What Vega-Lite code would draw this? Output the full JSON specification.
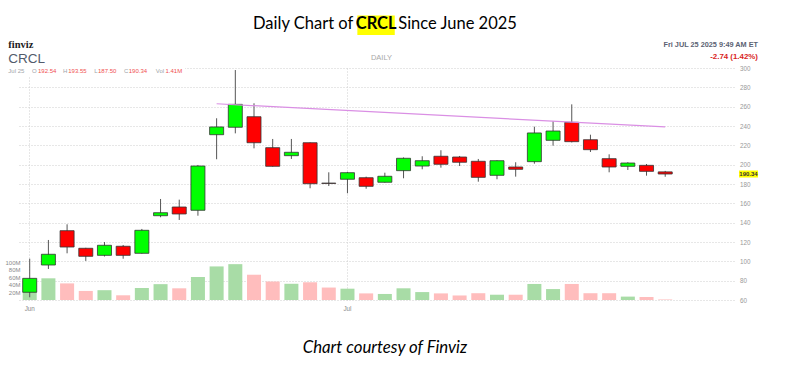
{
  "$schema": "https://vega.github.io/schema/vega-lite/v6.json",
  "width": 717,
  "height": 232,
  "autosize": {"type": "none"},
  "padding": {"left": 17, "top": 68, "right": 51, "bottom": 81},
  "background": "white",
  "config": {"view": {"stroke": null}, "font": "Liberation Sans"},
  "datasets": {
    "ohlc": [
      {"date": "2025-06-05", "open": 68.0, "high": 102.7, "low": 62.8, "close": 82.4, "volume": 48000000},
      {"date": "2025-06-06", "open": 96.2, "high": 122.1, "low": 92.1, "close": 107.3, "volume": 57500000},
      {"date": "2025-06-09", "open": 131.7, "high": 138.3, "low": 108.3, "close": 114.8, "volume": 44000000},
      {"date": "2025-06-10", "open": 113.5, "high": 114.0, "low": 100.4, "close": 105.2, "volume": 24000000},
      {"date": "2025-06-11", "open": 106.2, "high": 120.0, "low": 105.0, "close": 116.6, "volume": 26000000},
      {"date": "2025-06-12", "open": 115.6, "high": 116.9, "low": 102.7, "close": 106.2, "volume": 12500000},
      {"date": "2025-06-13", "open": 108.3, "high": 133.5, "low": 108.0, "close": 132.1, "volume": 32000000},
      {"date": "2025-06-16", "open": 147.2, "high": 164.5, "low": 145.6, "close": 150.3, "volume": 42000000},
      {"date": "2025-06-17", "open": 156.2, "high": 163.8, "low": 142.8, "close": 149.0, "volume": 31000000},
      {"date": "2025-06-18", "open": 152.8, "high": 199.7, "low": 147.2, "close": 198.6, "volume": 61000000},
      {"date": "2025-06-20", "open": 231.0, "high": 248.0, "low": 205.6, "close": 239.0, "volume": 89000000},
      {"date": "2025-06-23", "open": 238.7, "high": 297.9, "low": 232.4, "close": 262.4, "volume": 95000000},
      {"date": "2025-06-24", "open": 249.6, "high": 263.5, "low": 216.9, "close": 222.7, "volume": 67000000},
      {"date": "2025-06-25", "open": 217.6, "high": 226.6, "low": 198.0, "close": 198.3, "volume": 49000000},
      {"date": "2025-06-26", "open": 209.3, "high": 226.6, "low": 205.9, "close": 212.8, "volume": 43000000},
      {"date": "2025-06-27", "open": 222.7, "high": 223.0, "low": 175.6, "close": 180.3, "volume": 47000000},
      {"date": "2025-06-30", "open": 180.9, "high": 192.1, "low": 177.9, "close": 180.6, "volume": 33000000},
      {"date": "2025-07-01", "open": 184.9, "high": 192.5, "low": 170.4, "close": 191.7, "volume": 30000000},
      {"date": "2025-07-02", "open": 186.5, "high": 187.6, "low": 175.1, "close": 177.6, "volume": 17500000},
      {"date": "2025-07-03", "open": 181.8, "high": 191.7, "low": 181.5, "close": 188.0, "volume": 16000000},
      {"date": "2025-07-07", "open": 193.8, "high": 207.5, "low": 185.9, "close": 206.6, "volume": 31000000},
      {"date": "2025-07-08", "open": 198.6, "high": 208.7, "low": 195.2, "close": 204.1, "volume": 21000000},
      {"date": "2025-07-09", "open": 208.7, "high": 214.9, "low": 196.9, "close": 200.4, "volume": 17500000},
      {"date": "2025-07-10", "open": 207.9, "high": 209.0, "low": 198.6, "close": 202.5, "volume": 12000000},
      {"date": "2025-07-11", "open": 203.5, "high": 205.9, "low": 182.4, "close": 186.9, "volume": 18000000},
      {"date": "2025-07-14", "open": 189.0, "high": 204.5, "low": 184.9, "close": 204.1, "volume": 14000000},
      {"date": "2025-07-15", "open": 197.6, "high": 202.5, "low": 187.6, "close": 195.2, "volume": 14000000},
      {"date": "2025-07-16", "open": 203.1, "high": 239.3, "low": 201.0, "close": 232.8, "volume": 42500000},
      {"date": "2025-07-17", "open": 225.2, "high": 244.9, "low": 219.6, "close": 234.8, "volume": 29000000},
      {"date": "2025-07-18", "open": 243.8, "high": 262.4, "low": 223.0, "close": 223.8, "volume": 42500000},
      {"date": "2025-07-21", "open": 225.8, "high": 231.0, "low": 213.1, "close": 215.5, "volume": 18000000},
      {"date": "2025-07-22", "open": 206.2, "high": 210.7, "low": 192.1, "close": 197.6, "volume": 18000000},
      {"date": "2025-07-23", "open": 198.3, "high": 202.5, "low": 194.5, "close": 201.7, "volume": 9000000},
      {"date": "2025-07-24", "open": 199.3, "high": 200.7, "low": 188.6, "close": 193.1, "volume": 8000000},
      {"date": "2025-07-25", "open": 192.54, "high": 193.55, "low": 187.5, "close": 190.34, "volume": 1410000}
    ],
    "trend": [
      {"date": "2025-06-20", "price": 263},
      {"date": "2025-07-25", "price": 239}
    ]
  },
  "data": {"name": "ohlc"},
  "encoding": {
    "x": {
      "field": "date",
      "type": "ordinal",
      "scale": {
        "domain": ["2025-06-05","2025-06-06","2025-06-09","2025-06-10","2025-06-11","2025-06-12","2025-06-13","2025-06-16","2025-06-17","2025-06-18","2025-06-20","2025-06-23","2025-06-24","2025-06-25","2025-06-26","2025-06-27","2025-06-30","2025-07-01","2025-07-02","2025-07-03","2025-07-07","2025-07-08","2025-07-09","2025-07-10","2025-07-11","2025-07-14","2025-07-15","2025-07-16","2025-07-17","2025-07-18","2025-07-21","2025-07-22","2025-07-23","2025-07-24","2025-07-25","2025-07-28","2025-07-29","2025-07-30"],
        "paddingInner": 0.25,
        "paddingOuter": 0.305
      },
      "axis": {
        "values": ["2025-06-05", "2025-07-01"],
        "labelExpr": "datum.value == '2025-06-05' ? 'Jun' : 'Jul'",
        "title": null,
        "ticks": false,
        "tickSize": 0,
        "domain": false,
        "grid": true,
        "gridColor": "#cfcfcf",
        "gridDash": [1, 2],
        "labelAngle": 0,
        "labelFontSize": 6.3,
        "labelColor": "#8a8a8a",
        "labelPadding": 5
      }
    }
  },
  "layer": [
    {
      "mark": {"type": "bar"},
      "encoding": {
        "y": {
          "field": "volume",
          "type": "quantitative",
          "scale": {"domain": [0, 615000000], "nice": false, "zero": true},
          "axis": {
            "orient": "left",
            "values": [20000000, 40000000, 60000000, 80000000, 100000000],
            "tickCount": 10,
            "labelExpr": "(datum.value / 1000000) + 'M'",
            "title": null,
            "grid": false,
            "ticks": false,
            "tickSize": 0,
            "domain": false,
            "labelOverlap": false,
            "labelFontSize": 6,
            "labelColor": "#8a8a8a",
            "labelPadding": -3
          }
        },
        "color": {
          "condition": {"test": "datum.close >= datum.open", "value": "#a8dca6"},
          "value": "#ffbdbd"
        }
      }
    },
    {
      "layer": [
        {
          "mark": {"type": "rule", "color": "#555555", "strokeWidth": 1},
          "encoding": {
            "y": {
              "field": "low",
              "type": "quantitative",
              "scale": {"domain": [60, 300], "nice": false, "zero": false},
              "axis": {
                "orient": "right",
                "values": [60, 80, 100, 120, 140, 160, 180, 200, 220, 240, 260, 280, 300],
                "tickCount": 20,
                "title": null,
                "ticks": false,
                "tickSize": 0,
                "domain": false,
                "grid": true,
                "gridColor": "#cfcfcf",
                "gridDash": [1, 2],
                "labelOverlap": false,
                "labelFontSize": 6.3,
                "labelColor": "#999999",
                "labelPadding": 5.5
              }
            },
            "y2": {"field": "high"}
          }
        },
        {
          "mark": {"type": "bar", "stroke": "#333333", "strokeWidth": 0.8},
          "encoding": {
            "y": {"field": "open", "type": "quantitative"},
            "y2": {"field": "close"},
            "color": {
              "condition": {"test": "datum.close >= datum.open", "value": "#00ff00"},
              "value": "#ff0000"
            }
          }
        },
        {
          "data": {"name": "trend"},
          "mark": {"type": "line", "color": "#da8fe4", "strokeWidth": 1.2},
          "encoding": {
            "y": {"field": "price", "type": "quantitative"}
          }
        },
        {
          "data": {"values": [{}]},
          "mark": {"type": "point", "shape": "M-1,-0.065H1V0.065H-1Z", "size": 34225, "filled": true, "color": "white", "opacity": 1, "strokeWidth": 0, "xOffset": 62.8},
          "encoding": {"x": {"datum": "2025-06-05", "type": "ordinal"}, "y": {"datum": 296.9, "type": "quantitative"}}
        },
        {
          "data": {"values": [{}]},
          "mark": {"type": "point", "shape": "M-1,-0.516H1V0.516H-1Z", "size": 1399, "filled": true, "color": "#ffff00", "opacity": 1, "strokeWidth": 0, "xOffset": 28.6},
          "encoding": {"x": {"datum": "2025-07-01", "type": "ordinal"}, "y": {"datum": 344.2, "type": "quantitative"}}
        },
        {
          "data": {"values": [{}]},
          "mark": {"type": "text", "text": "Daily Chart of", "align": "right", "baseline": "middle", "dx": 5.8, "font": "Lato", "fontSize": 16.5, "color": "#000000"},
          "encoding": {"x": {"datum": "2025-07-01", "type": "ordinal"}, "y": {"datum": 345.3, "type": "quantitative"}}
        },
        {
          "data": {"values": [{}]},
          "mark": {"type": "text", "text": "CRCL", "align": "center", "baseline": "middle", "dx": 28.7, "font": "Lato", "fontSize": 16.5, "fontWeight": "bold", "color": "#000000"},
          "encoding": {"x": {"datum": "2025-07-01", "type": "ordinal"}, "y": {"datum": 345.3, "type": "quantitative"}}
        },
        {
          "data": {"values": [{}]},
          "mark": {"type": "text", "text": "Since June 2025", "align": "left", "baseline": "middle", "dx": 50.8, "font": "Lato", "fontSize": 16.5, "color": "#000000"},
          "encoding": {"x": {"datum": "2025-07-01", "type": "ordinal"}, "y": {"datum": 345.3, "type": "quantitative"}}
        },
        {
          "data": {"values": [{}]},
          "mark": {"type": "text", "text": "Chart courtesy of Finviz", "align": "center", "baseline": "middle", "dx": 0, "font": "Lato", "fontSize": 16.8, "fontStyle": "italic", "color": "#000000"},
          "encoding": {"x": {"datum": "2025-07-03", "type": "ordinal"}, "y": {"datum": 10.35, "type": "quantitative"}}
        },
        {
          "data": {"values": [{}]},
          "mark": {"type": "text", "text": "finviz", "align": "left", "baseline": "middle", "dx": -21.4, "font": "Liberation Serif", "fontSize": 10.5, "fontWeight": "bold", "color": "#222222"},
          "encoding": {"x": {"datum": "2025-06-05", "type": "ordinal"}, "y": {"datum": 324.2, "type": "quantitative"}}
        },
        {
          "data": {"values": [{}]},
          "mark": {"type": "text", "text": "CRCL", "align": "left", "baseline": "middle", "dx": -21.4, "font": "Liberation Sans", "fontSize": 13.5, "color": "#525b6b"},
          "encoding": {"x": {"datum": "2025-06-05", "type": "ordinal"}, "y": {"datum": 309.1, "type": "quantitative"}}
        },
        {
          "data": {"values": [{}]},
          "mark": {"type": "text", "text": "Jul 25", "align": "left", "baseline": "middle", "dx": -21.4, "fontSize": 6, "color": "#a0a4aa"},
          "encoding": {"x": {"datum": "2025-06-05", "type": "ordinal"}, "y": {"datum": 296.4, "type": "quantitative"}}
        },
        {
          "data": {"values": [{}]},
          "mark": {"type": "text", "text": "O", "align": "left", "baseline": "middle", "dx": 2.3, "fontSize": 6, "color": "#a0a4aa"},
          "encoding": {"x": {"datum": "2025-06-05", "type": "ordinal"}, "y": {"datum": 296.4, "type": "quantitative"}}
        },
        {
          "data": {"values": [{}]},
          "mark": {"type": "text", "text": "192.54", "align": "left", "baseline": "middle", "dx": 8.3, "fontSize": 6, "color": "#f05050"},
          "encoding": {"x": {"datum": "2025-06-05", "type": "ordinal"}, "y": {"datum": 296.4, "type": "quantitative"}}
        },
        {
          "data": {"values": [{}]},
          "mark": {"type": "text", "text": "H", "align": "left", "baseline": "middle", "dx": 33.4, "fontSize": 6, "color": "#a0a4aa"},
          "encoding": {"x": {"datum": "2025-06-05", "type": "ordinal"}, "y": {"datum": 296.4, "type": "quantitative"}}
        },
        {
          "data": {"values": [{}]},
          "mark": {"type": "text", "text": "193.55", "align": "left", "baseline": "middle", "dx": 38.5, "fontSize": 6, "color": "#f05050"},
          "encoding": {"x": {"datum": "2025-06-05", "type": "ordinal"}, "y": {"datum": 296.4, "type": "quantitative"}}
        },
        {
          "data": {"values": [{}]},
          "mark": {"type": "text", "text": "L", "align": "left", "baseline": "middle", "dx": 64.5, "fontSize": 6, "color": "#a0a4aa"},
          "encoding": {"x": {"datum": "2025-06-05", "type": "ordinal"}, "y": {"datum": 296.4, "type": "quantitative"}}
        },
        {
          "data": {"values": [{}]},
          "mark": {"type": "text", "text": "187.50", "align": "left", "baseline": "middle", "dx": 68.3, "fontSize": 6, "color": "#f05050"},
          "encoding": {"x": {"datum": "2025-06-05", "type": "ordinal"}, "y": {"datum": 296.4, "type": "quantitative"}}
        },
        {
          "data": {"values": [{}]},
          "mark": {"type": "text", "text": "C", "align": "left", "baseline": "middle", "dx": 94.2, "fontSize": 6, "color": "#a0a4aa"},
          "encoding": {"x": {"datum": "2025-06-05", "type": "ordinal"}, "y": {"datum": 296.4, "type": "quantitative"}}
        },
        {
          "data": {"values": [{}]},
          "mark": {"type": "text", "text": "190.34", "align": "left", "baseline": "middle", "dx": 99, "fontSize": 6, "color": "#f05050"},
          "encoding": {"x": {"datum": "2025-06-05", "type": "ordinal"}, "y": {"datum": 296.4, "type": "quantitative"}}
        },
        {
          "data": {"values": [{}]},
          "mark": {"type": "text", "text": "Vol", "align": "left", "baseline": "middle", "dx": 126, "fontSize": 6, "color": "#a0a4aa"},
          "encoding": {"x": {"datum": "2025-06-05", "type": "ordinal"}, "y": {"datum": 296.4, "type": "quantitative"}}
        },
        {
          "data": {"values": [{}]},
          "mark": {"type": "text", "text": "1.41M", "align": "left", "baseline": "middle", "dx": 135.8, "fontSize": 6, "color": "#f05050"},
          "encoding": {"x": {"datum": "2025-06-05", "type": "ordinal"}, "y": {"datum": 296.4, "type": "quantitative"}}
        },
        {
          "data": {"values": [{}]},
          "mark": {"type": "text", "text": "DAILY", "align": "center", "baseline": "middle", "dx": -3.4, "fontSize": 7.5, "color": "#a8a8a8"},
          "encoding": {"x": {"datum": "2025-07-03", "type": "ordinal"}, "y": {"datum": 310.3, "type": "quantitative"}}
        },
        {
          "data": {"values": [{}]},
          "mark": {"type": "text", "text": "Fri JUL 25 2025 9:49 AM ET", "align": "right", "baseline": "middle", "dx": 36.7, "fontSize": 7.3, "fontWeight": "bold", "color": "#5b6273"},
          "encoding": {"x": {"datum": "2025-07-30", "type": "ordinal"}, "y": {"datum": 324.3, "type": "quantitative"}}
        },
        {
          "data": {"values": [{}]},
          "mark": {"type": "text", "text": "-2.74 (1.42%)", "align": "right", "baseline": "middle", "dx": 36.7, "fontSize": 7.9, "fontWeight": "bold", "color": "#d91e1e"},
          "encoding": {"x": {"datum": "2025-07-30", "type": "ordinal"}, "y": {"datum": 310.9, "type": "quantitative"}}
        },
        {
          "data": {"values": [{}]},
          "mark": {"type": "point", "shape": "M-1,-0.37H1V0.37H-1Z", "size": 361, "filled": true, "color": "#ffff00", "opacity": 1, "strokeWidth": 0, "xOffset": 27.2},
          "encoding": {"x": {"datum": "2025-07-30", "type": "ordinal"}, "y": {"datum": 190.34, "type": "quantitative"}}
        },
        {
          "data": {"values": [{}]},
          "mark": {"type": "text", "text": "190.34", "align": "center", "baseline": "middle", "dx": 27.2, "fontSize": 6, "fontWeight": "bold", "color": "#333333"},
          "encoding": {"x": {"datum": "2025-07-30", "type": "ordinal"}, "y": {"datum": 190.34, "type": "quantitative"}}
        }
      ]
    }
  ],
  "resolve": {"scale": {"y": "independent"}, "axis": {"y": "independent"}}
}
